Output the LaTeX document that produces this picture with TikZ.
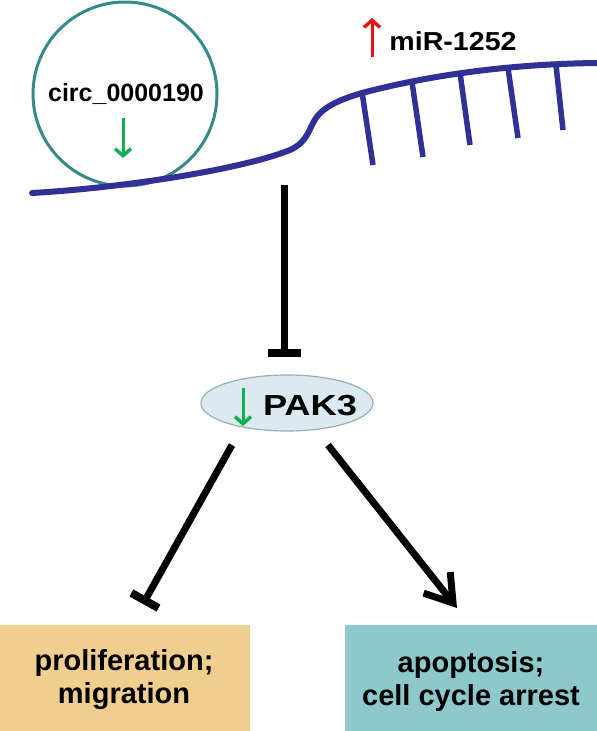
\documentclass[tikz,border=0pt]{standalone}
\usepackage{fontspec}
\setmainfont{Liberation Sans}
\usetikzlibrary{arrows.meta,shapes.geometric}
\definecolor{strandblue}{RGB}{48,48,150}
\definecolor{circteal}{RGB}{52,138,138}
\definecolor{upred}{RGB}{232,16,16}
\definecolor{downgreen}{RGB}{20,176,80}
\definecolor{pakfill}{RGB}{218,234,240}
\definecolor{pakdraw}{RGB}{150,175,180}
\definecolor{boxorange}{RGB}{240,206,142}
\definecolor{boxteal}{RGB}{140,200,204}
\tikzset{
  strand/.style={draw=strandblue, line width=6pt, line cap=round},
  tooth/.style={draw=strandblue, line width=5.5pt},
  lbl/.style={font=\bfseries\fontsize{25}{30}\selectfont, inner sep=0pt},
  boxtxt/.style={font=\bfseries\fontsize{29}{33}\selectfont, align=center, inner sep=0pt},
  blackln/.style={draw=black, line width=7pt},
  uparrow/.style={draw=upred, line width=3pt, -{Straight Barb[length=7pt,width=16pt,line width=3.5pt]}},
  downarrow/.style={draw=downgreen, line width=3pt, -{Straight Barb[length=7pt,width=16pt,line width=3.5pt]}},
}
\begin{document}
\begin{tikzpicture}[x=1pt,y=-1pt]
\useasboundingbox (0,0) rectangle (597,731);
% circRNA
\node[circle, draw=circteal, line width=3pt, minimum size=184pt, inner sep=0pt] (circ) at (125,94) {};
\node[lbl] (circtxt) at (126,94) {circ\_0000190};
\coordinate (cg1) at (123,118);
\coordinate (cg2) at (123,158);
\draw[downarrow] (cg1) -- (cg2);
% strand
\draw[strand] (32,193) .. controls (120,188) and (240,170) .. (290,150)
  .. controls (308,142) and (309,128) .. (316,118)
  .. controls (325,105) and (345,98) .. (362,93)
  .. controls (430,75) and (510,64) .. (597,63);
\foreach \a/\b/\c/\d in {362/92/373/165, 412/82/423/157, 460/73/470/145, 508/68/518/138, 556/65/563/130}
  \draw[tooth] (\a,\b) -- (\c,\d);
% miR label
\node[lbl, font=\bfseries\fontsize{26}{30}\selectfont] (mir) at (453,41) {\scalebox{1.1}[1]{miR-1252}};
\coordinate (ru1) at (372,57);
\coordinate (ru2) at (372,18);
\draw[uparrow] (ru1) -- (ru2);
% PAK3
\node[ellipse, draw=pakdraw, fill=pakfill, line width=1.2pt, minimum width=172pt, minimum height=56pt, inner sep=0pt] (pak) at (287,403) {};
\node[lbl, font=\bfseries\fontsize{29}{30}\selectfont] (paktxt) at (310,406) {\scalebox{1.25}[1]{PAK3}};
\coordinate (pg1) at (243,388);
\coordinate (pg2) at (243,426);
\draw[downarrow] (pg1) -- (pg2);
% boxes
\node[fill=boxorange, minimum width=250pt, minimum height=106pt, inner sep=0pt] (prolif) at (125,678) {};
\node[boxtxt] (proliftxt) at (124,680) {proliferation;\\migration};
\node[fill=boxteal, minimum width=252pt, minimum height=106pt, inner sep=0pt] (apop) at (471,678) {};
\node[boxtxt] (apoptxt) at (471,681) {apoptosis;\\cell cycle arrest};
% connectors
\coordinate (vs) at (284,185);
\coordinate (ve) at (284,357);
\draw[blackln, -{Bar[width=33pt,line width=8pt]}] (vs) -- (ve);
\coordinate (ls) at (232,445);
\coordinate (le) at (143,604);
\draw[blackln, -{Bar[width=31pt,line width=8pt]}] (ls) -- (le);
\coordinate (rs) at (328,445);
\coordinate (re) at (457,608);
\draw[blackln, -{Straight Barb[length=26pt,width=34pt,line width=7pt]}] (rs) -- (re);
\end{tikzpicture}
\end{document}
